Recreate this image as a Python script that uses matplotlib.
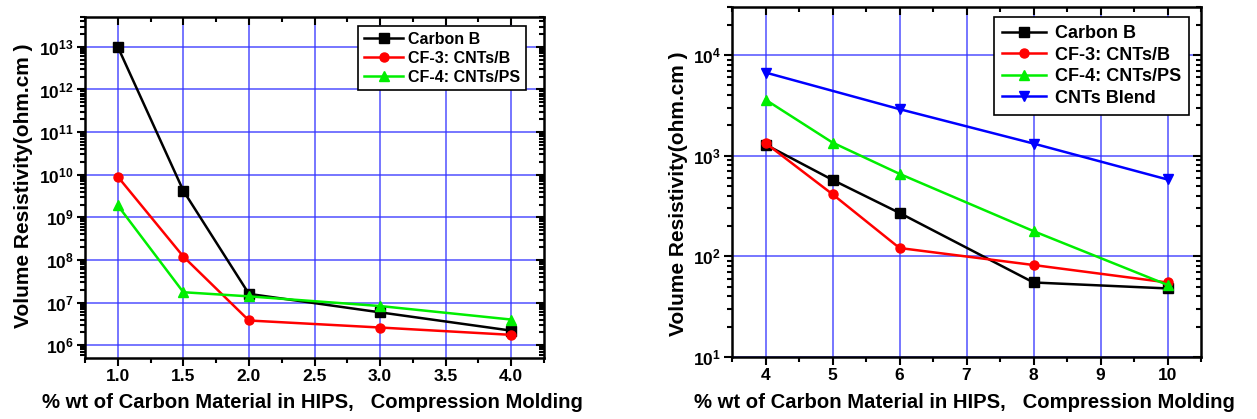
import math
import matplotlib
matplotlib.use("Agg")
import matplotlib.pyplot as plt
from matplotlib.ticker import MultipleLocator, LogLocator, FixedLocator, FuncFormatter, NullFormatter

plt.rcParams['font.family'] = ['Liberation Sans', 'DejaVu Sans']
plt.rcParams['font.weight'] = 'bold'
plt.rcParams['mathtext.fontset'] = 'custom'
plt.rcParams['mathtext.rm'] = 'Liberation Sans:bold'
plt.rcParams['mathtext.bf'] = 'Liberation Sans:bold'

# left panel data
x1 = [1.0, 1.5, 2.0, 3.0, 4.0]
carbon_b_1 = [1.0e13, 4.2e9, 1.6e7, 5.9e6, 2.2e6]
cf3_1 = [9.0e9, 1.2e8, 3.8e6, 2.6e6, 1.75e6]
cf4_1 = [1.9e9, 1.75e7, 1.4e7, 8.3e6, 4.0e6]
yticks_1 = [1e6, 1e7, 1e8, 1e9, 1e10, 1e11, 1e12, 1e13]

# right panel data
x2 = [4, 5, 6, 8, 10]
carbon_b_2 = [1290, 575, 270, 55, 48]
cf3_2 = [1335, 414, 121, 82, 55]
cf4_2 = [3600, 1350, 660, 178, 52]
x2_blend = [4, 6, 8, 10]
blend_2 = [6700, 2900, 1320, 580]
yticks_2 = [1e1, 1e2, 1e3, 1e4]

W, H = 1257, 419
fig = plt.figure(figsize=(W / 100, H / 100), dpi=100)


def box(l, r, t, b):
    return [l / W, 1 - b / H, (r - l) / W, (b - t) / H]


ax1 = fig.add_axes(box(85, 544, 17, 358))
ax2 = fig.add_axes(box(732, 1201, 7, 357))

sup = FuncFormatter(lambda v, p: r'$\mathbf{10^{%d}}$' % round(math.log10(v)))

for ax, yt in ((ax1, yticks_1), (ax2, yticks_2)):
    ax.set_yscale('log')
    ax.grid(True, which='major', color='#3333ff', lw=1.1, alpha=0.85)
    ax.set_axisbelow(True)
    for s in ax.spines.values():
        s.set_linewidth(1.8)
    ax.tick_params(which='both', direction='out', width=1.5, labelsize=12.5,
                   top=True, right=True, labeltop=False, labelright=False)
    ax.tick_params(which='major', length=6, pad=2)
    ax.tick_params(which='minor', length=3.5)
    ax.yaxis.set_major_locator(FixedLocator(yt))
    ax.yaxis.set_major_formatter(sup)
    ax.yaxis.set_minor_formatter(NullFormatter())
    ax.yaxis.set_minor_locator(LogLocator(base=10, subs=range(2, 10), numticks=20))

kw = dict(lw=1.8, ms=6.5)
ax1.plot(x1, carbon_b_1, '-s', color='black', label='Carbon B', **kw)
ax1.plot(x1, cf3_1, '-o', color='red', label='CF-3: CNTs/B', **kw)
ax1.plot(x1, cf4_1, '-^', color='#00ee00', label='CF-4: CNTs/PS', **kw)
ax1.set_xlim(0.75, 4.25)
ax1.set_ylim(10 ** 5.7, 10 ** 13.7)
ax1.xaxis.set_major_locator(MultipleLocator(0.5))
ax1.xaxis.set_minor_locator(MultipleLocator(0.25))
ax1.xaxis.set_major_formatter(FuncFormatter(lambda v, p: '%.1f' % v))

ax2.plot(x2, carbon_b_2, '-s', color='black', label='Carbon B', **kw)
ax2.plot(x2, cf3_2, '-o', color='red', label='CF-3: CNTs/B', **kw)
ax2.plot(x2, cf4_2, '-^', color='#00ee00', label='CF-4: CNTs/PS', **kw)
ax2.plot(x2_blend, blend_2, '-v', color='blue', label='CNTs Blend', **kw)
ax2.set_xlim(3.5, 10.5)
ax2.set_ylim(10, 3e4)
ax2.xaxis.set_major_locator(MultipleLocator(1))
ax2.xaxis.set_minor_locator(MultipleLocator(0.5))

for ax in (ax1, ax2):
    # top and right ticks point inward
    for tk in ax.xaxis.get_major_ticks() + ax.xaxis.get_minor_ticks():
        tk.tick2line.set_marker(matplotlib.lines.TICKDOWN)
    for tk in ax.yaxis.get_major_ticks() + ax.yaxis.get_minor_ticks():
        tk.tick2line.set_marker(matplotlib.lines.TICKLEFT)

leg1 = ax1.legend(loc='upper right', bbox_to_anchor=(526 / W, 1 - 26 / H),
                  bbox_transform=fig.transFigure, borderaxespad=0,
                  fancybox=False, edgecolor='black', framealpha=1,
                  fontsize=11.5, handlelength=2.5, labelspacing=0.25,
                  borderpad=0.35, handletextpad=0.3)
leg1.get_frame().set_linewidth(1.2)
leg2 = ax2.legend(loc='upper right', bbox_to_anchor=(1189 / W, 1 - 17 / H),
                  bbox_transform=fig.transFigure, borderaxespad=0,
                  fancybox=False, edgecolor='black', framealpha=1,
                  fontsize=13, handlelength=2.4, labelspacing=0.25,
                  borderpad=0.45, handletextpad=0.5)
leg2.get_frame().set_linewidth(1.2)

xl = '% wt of Carbon Material in HIPS,   Compression Molding'
yl = 'Volume Resistivity(ohm.cm )'
fig.text(312 / W, 1 - 402 / H, xl, ha='center', va='center', fontsize=14.6, fontweight='bold')
fig.text(964 / W, 1 - 402 / H, xl, ha='center', va='center', fontsize=14.6, fontweight='bold')
fig.text(24 / W, 1 - 186 / H, yl, ha='center', va='center', rotation=90, fontsize=15, fontweight='bold')
fig.text(678 / W, 1 - 194 / H, yl, ha='center', va='center', rotation=90, fontsize=15, fontweight='bold')

fig.savefig('out.png', dpi=100)
